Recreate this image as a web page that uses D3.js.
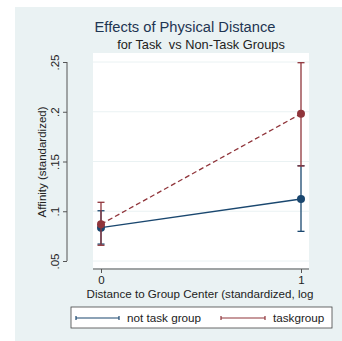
<!DOCTYPE html>
<html>
  <head>
    <meta charset="utf-8" />
    <title>Effects of Physical Distance</title>
    <script src="https://d3js.org/d3.v7.min.js"></script>
    <style>
        body { margin: 0; background: #fff; }
        text { font-family: "Liberation Sans", Arial, sans-serif; fill: #222; }
    </style>
  </head>
  <body>
    <svg id="chart"></svg>
    <script>
        var width = 342, height = 341;

        // data
        var xValues = [0, 1];
        var yTicks = [0.05, 0.1, 0.15, 0.2, 0.25];
        var yTickLabels = [".05", ".1", ".15", ".2", ".25"];
        var seriesNames = ["not task group", "taskgroup"];
        var seriesColors = ["#1a476f", "#90353b"];
        var notTaskMean = [0.0835, 0.1123];
        var notTaskLow = [0.067, 0.0798];
        var notTaskHigh = [0.1005, 0.1458];
        var taskMean = [0.0869, 0.198];
        var taskLow = [0.0658, 0.1455];
        var taskHigh = [0.109, 0.2493];

        var series = [
            {name: seriesNames[0], color: seriesColors[0], mean: notTaskMean, low: notTaskLow, high: notTaskHigh, dash: null},
            {name: seriesNames[1], color: seriesColors[1], mean: taskMean, low: taskLow, high: taskHigh, dash: "5,3"}
        ];

        var svg = d3.select("#chart").attr("width", width).attr("height", height);

        // outer background
        svg.append("rect").attr("x", 15).attr("y", 7).attr("width", width - 15).attr("height", height - 7)
            .attr("fill", "#eaf2f3");

        var plot = {left: 93, right: 309, top: 53, bottom: 268};
        svg.append("rect").attr("x", plot.left).attr("y", plot.top)
            .attr("width", plot.right - plot.left).attr("height", plot.bottom - plot.top)
            .attr("fill", "#fff");

        var x = d3.scaleLinear().domain([0, 1]).range([101, 301]);
        var y = d3.scaleLinear().domain([0.05, 0.25]).range([261, 62]);

        // grid lines
        svg.append("g").selectAll("line").data(yTicks).enter().append("line")
            .attr("x1", plot.left).attr("x2", plot.right)
            .attr("y1", function(d){ return y(d); }).attr("y2", function(d){ return y(d); })
            .attr("stroke", "#eaf2f3").attr("stroke-width", 1);

        // y axis
        var yAxis = svg.append("g").attr("transform", "translate(67,0)")
            .call(d3.axisLeft(y).tickValues(yTicks).tickSize(4)
                .tickFormat(function(d, i){ return yTickLabels[i]; }));
        yAxis.select(".domain").attr("d", "M0," + y(0.25) + "V" + y(0.05)).attr("stroke", "#555");
        yAxis.selectAll(".tick line").attr("stroke", "#555");
        yAxis.selectAll(".tick text")
            .attr("transform", "rotate(-90)")
            .attr("x", 0).attr("y", -8).attr("dy", 0)
            .attr("text-anchor", "middle")
            .style("font-size", "11.5px").style("font-family", "Liberation Sans, Arial, sans-serif").attr("fill", "#222");

        // x axis
        var xAxis = svg.append("g").attr("transform", "translate(0,269)")
            .call(d3.axisBottom(x).tickValues(xValues).tickSize(4).tickFormat(d3.format("d")));
        xAxis.select(".domain").attr("d", "M" + plot.left + ",0H" + plot.right).attr("stroke", "#555");
        xAxis.selectAll(".tick line").attr("stroke", "#555");
        xAxis.selectAll(".tick text").attr("y", 7)
            .style("font-size", "11.5px").style("font-family", "Liberation Sans, Arial, sans-serif").attr("fill", "#222");

        // titles
        svg.append("text").attr("x", 185).attr("y", 32).attr("text-anchor", "middle")
            .style("font-size", "14.7px").style("fill", "#1e3552")
            .text("Effects of Physical Distance");
        svg.append("text").attr("x", 201).attr("y", 49).attr("text-anchor", "middle")
            .style("font-size", "12.8px").style("white-space", "pre").attr("xml:space", "preserve")
            .text("for Task  vs Non-Task Groups");
        svg.append("text").attr("transform", "translate(46,162) rotate(-90)").attr("text-anchor", "middle")
            .style("font-size", "11.5px").text("Affinity (standardized)");
        svg.append("text").attr("x", 200).attr("y", 298).attr("text-anchor", "middle")
            .style("font-size", "11.6px").text("Distance to Group Center (standardized, log");

        // series
        series.forEach(function(s) {
            var g = svg.append("g");
            var line = d3.line().x(function(d, i){ return x(xValues[i]); }).y(function(d){ return y(d); });
            g.append("path").datum(s.mean).attr("d", line).attr("fill", "none")
                .attr("stroke", s.color).attr("stroke-width", 1.3)
                .attr("stroke-dasharray", s.dash);
            xValues.forEach(function(xv, i) {
                var cx = x(xv);
                g.append("line").attr("x1", cx).attr("x2", cx)
                    .attr("y1", y(s.low[i])).attr("y2", y(s.high[i]))
                    .attr("stroke", s.color).attr("stroke-width", 1.3);
                [s.low[i], s.high[i]].forEach(function(v) {
                    g.append("line").attr("x1", cx - 3.5).attr("x2", cx + 3.5)
                        .attr("y1", y(v)).attr("y2", y(v))
                        .attr("stroke", s.color).attr("stroke-width", 1.3);
                });
            });
            g.selectAll("circle").data(s.mean).enter().append("circle")
                .attr("cx", function(d, i){ return x(xValues[i]); })
                .attr("cy", function(d){ return y(d); })
                .attr("r", 4).attr("fill", s.color);
        });

        // legend
        var legend = svg.append("g");
        legend.append("rect").attr("x", 71).attr("y", 307).attr("width", 261).attr("height", 21)
            .attr("fill", "#fff").attr("stroke", "#444").attr("stroke-width", 0.8);
        var legendPos = [{x1: 76, x2: 119, tx: 127}, {x1: 221, x2: 265, tx: 273}];
        series.forEach(function(s, i) {
            var p = legendPos[i];
            legend.append("line").attr("x1", p.x1).attr("x2", p.x2).attr("y1", 318).attr("y2", 318)
                .attr("stroke", s.color).attr("stroke-width", 1.2);
            [p.x1, p.x2].forEach(function(xx) {
                legend.append("line").attr("x1", xx).attr("x2", xx).attr("y1", 316).attr("y2", 320)
                    .attr("stroke", s.color).attr("stroke-width", 1.2);
            });
            legend.append("text").attr("x", p.tx).attr("y", 322).style("font-size", "11.7px").text(s.name);
        });
    </script>
  </body>
</html>
